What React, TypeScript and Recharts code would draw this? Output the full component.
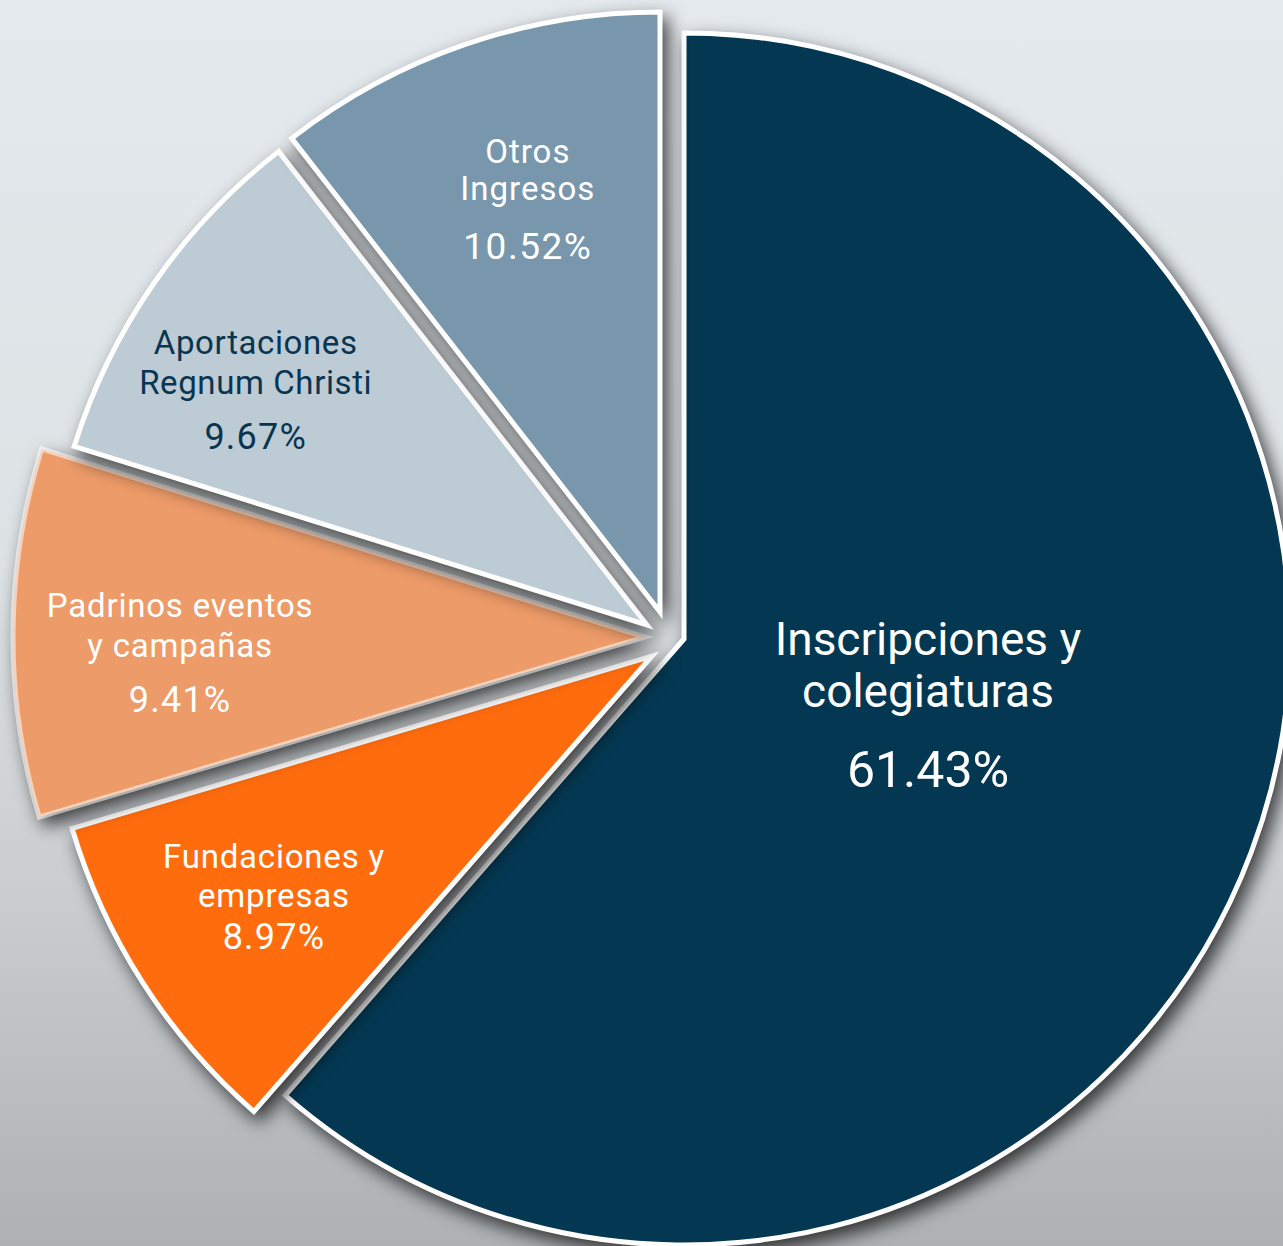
import React from 'react';
import { PieChart, Pie, Cell } from 'recharts';

// clockwise from 12 o'clock
const categories = [
  'Inscripciones y colegiaturas',
  'Fundaciones y empresas',
  'Padrinos eventos y campañas',
  'Aportaciones Regnum Christi',
  'Otros Ingresos',
];
const labelLines = [
  ['Inscripciones y', 'colegiaturas'],
  ['Fundaciones y', 'empresas'],
  ['Padrinos eventos', 'y campañas'],
  ['Aportaciones', 'Regnum Christi'],
  ['Otros', 'Ingresos'],
];
const shares = [61.43, 8.97, 9.41, 9.67, 10.52];

const data = categories.map((name, i) => ({ name, value: shares[i] }));

const colors = ['#043852', '#ff6c0e', '#ed9b68', '#bdcbd5', '#7897ac'];
const textColors = ['#ffffff', '#ffffff', '#ffffff', '#0a3550', '#ffffff'];
const strokes = ['#ffffff', '#ffffff', 'rgba(255,255,255,0.55)', '#ffffff', '#ffffff'];

// exploded slice offsets from the common centre, and radii
const center = { x: 660, y: 640 };
const explode = [
  { dx: 24, dy: -1, r: 606 },
  { dx: -8, dy: 16, r: 605 },
  { dx: -15, dy: -3, r: 632 },
  { dx: -13, dy: -15, r: 600 },
  { dx: 0, dy: -28, r: 600 },
];

// label placement: distance as fraction of radius, angle nudge, type sizes
const labelStyle = [
  { dist: 0.417, shift: -5.5, nameSize: 46, pctSize: 50, lineGap: 52, pctGap: 79, ls: 0, pls: 0 },
  { dist: 0.741, shift: 0.2, nameSize: 33, pctSize: 36, lineGap: 39, pctGap: 41, ls: 0.8, pls: 1.2 },
  { dist: 0.736, shift: -2.3, nameSize: 33, pctSize: 36, lineGap: 40, pctGap: 54, ls: 0.8, pls: 1.2 },
  { dist: 0.761, shift: -3.7, nameSize: 33, pctSize: 36, lineGap: 40, pctGap: 55, ls: 0.6, pls: 1.2 },
  { dist: 0.723, shift: 1.2, nameSize: 33, pctSize: 37, lineGap: 37, pctGap: 58, ls: 1, pls: 1.5 },
];

const RAD = Math.PI / 180;

const makeLabel = (slice: number) => (props: any) => {
  if (props.index !== slice) return <g key={`l-${slice}-${props.index}`} />;
  const { cx, cy, midAngle, outerRadius, value } = props;
  const st = labelStyle[slice];
  const a = (midAngle - st.shift) * RAD;
  const r = outerRadius * st.dist;
  const x = cx + r * Math.cos(a);
  const y = cy - r * Math.sin(a);
  const lines = labelLines[slice];
  const total = (lines.length - 1) * st.lineGap + st.pctGap;
  const top = y - total / 2;
  return (
    <g key={`l-${slice}`} fill={textColors[slice]} fontFamily="Roboto, 'Open Sans', sans-serif">
      {lines.map((ln, k) => (
        <text
          key={k}
          x={x}
          y={top + k * st.lineGap}
          textAnchor="middle"
          dominantBaseline="central"
          fontSize={st.nameSize}
          letterSpacing={st.ls}
          fill={textColors[slice]}
        >
          {ln}
        </text>
      ))}
      <text
        x={x}
        y={top + total}
        textAnchor="middle"
        dominantBaseline="central"
        fontSize={st.pctSize}
        letterSpacing={st.pls}
        fill={textColors[slice]}
      >
        {`${Number(value).toFixed(2)}%`}
      </text>
    </g>
  );
};

export default function App() {
  return (
    <div
      style={{
        position: 'absolute',
        left: 0,
        top: 0,
        width: 1283,
        height: 1246,
        overflow: 'hidden',
        background:
          'linear-gradient(to bottom, #e4e9ed 0%, #dde2e5 45%, #c9cdd0 72%, #adb1b4 100%)',
      }}
    >
      <style>{`.recharts-sector { filter: drop-shadow(6px 8px 9px rgba(0,0,0,0.72)); }`}</style>
      <PieChart width={1283} height={1246} margin={{ top: 0, right: 0, bottom: 0, left: 0 }}>
        {explode.map((ex, slice) => (
          <Pie
            key={slice}
            data={data}
            dataKey="value"
            nameKey="name"
            cx={center.x + ex.dx}
            cy={center.y + ex.dy}
            innerRadius={0}
            outerRadius={ex.r}
            startAngle={90}
            endAngle={-270}
            isAnimationActive={false}
            labelLine={false}
            label={makeLabel(slice)}
          >
            {data.map((d, i) => (
              <Cell
                key={`c-${i}`}
                fill={i === slice ? colors[i] : 'transparent'}
                stroke={i === slice ? strokes[i] : 'none'}
                strokeWidth={i === slice ? 5 : 0}
                strokeLinejoin="miter"
              />
            ))}
          </Pie>
        ))}
      </PieChart>
    </div>
  );
}
